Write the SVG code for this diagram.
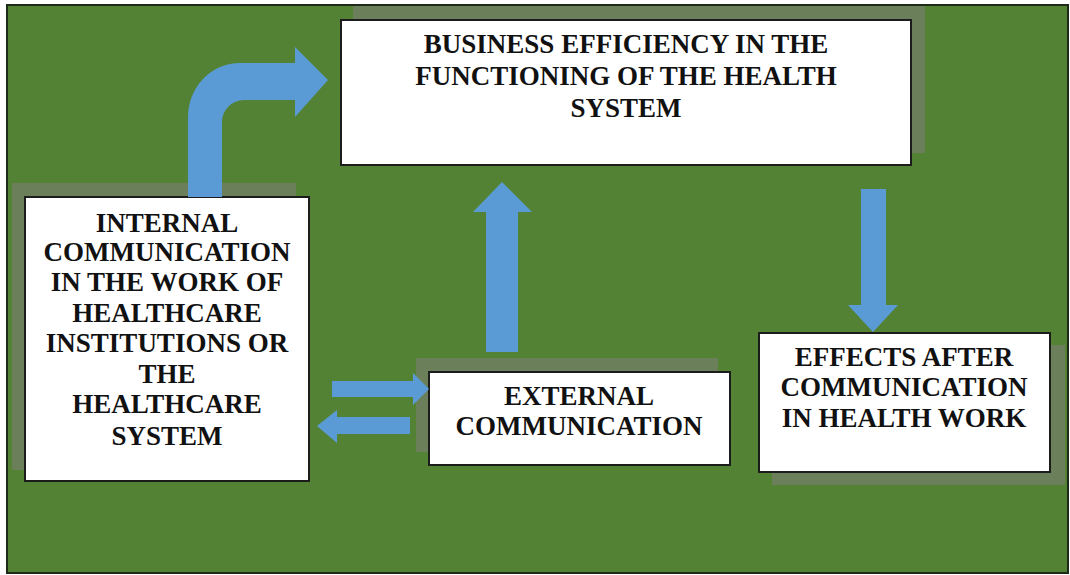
<svg xmlns="http://www.w3.org/2000/svg" width="1070" height="575" viewBox="0 0 1070 575">
<style>
.bg{fill:#548235;stroke:#1e2a18;stroke-width:2}
.sh{fill:#6b7f5b}
.box{fill:#ffffff;stroke:#1c1c1c;stroke-width:2}
.t{font-family:"Liberation Serif","Times New Roman",serif;font-weight:bold;font-size:27px;fill:#111;text-anchor:middle}
.ar{fill:#5b9bd5}
</style>
<rect x="0" y="0" width="1070" height="575" fill="#ffffff"/>
<rect class="bg" x="7" y="5" width="1061" height="568"/>
<g id="node-business">
<rect class="sh" x="353" y="6" width="572" height="147"/>
<rect class="box" x="341" y="20" width="570" height="145"/>
<text class="t" x="626" y="53">BUSINESS EFFICIENCY IN THE</text>
<text class="t" x="626" y="85">FUNCTIONING OF THE HEALTH</text>
<text class="t" x="626" y="117">SYSTEM</text>
</g>
<g id="node-internal">
<rect class="sh" x="12" y="183" width="284" height="287"/>
<rect class="box" x="25" y="197" width="284" height="284"/>
<text class="t" x="167" y="232">INTERNAL</text>
<text class="t" x="167" y="261">COMMUNICATION</text>
<text class="t" x="167" y="291">IN THE WORK OF</text>
<text class="t" x="167" y="322">HEALTHCARE</text>
<text class="t" x="167" y="352">INSTITUTIONS OR</text>
<text class="t" x="167" y="383">THE</text>
<text class="t" x="167" y="413">HEALTHCARE</text>
<text class="t" x="167" y="445">SYSTEM</text>
</g>
<g id="node-external">
<rect class="sh" x="416" y="358" width="302" height="94"/>
<rect class="box" x="429" y="372" width="301" height="93"/>
<text class="t" x="579" y="405">EXTERNAL</text>
<text class="t" x="579" y="435">COMMUNICATION</text>
</g>
<g id="node-effects">
<rect class="sh" x="772" y="345" width="293" height="140"/>
<rect class="box" x="759" y="333" width="291" height="139"/>
<text class="t" x="904" y="366">EFFECTS AFTER</text>
<text class="t" x="904" y="396">COMMUNICATION</text>
<text class="t" x="904" y="427">IN HEALTH WORK</text>
</g>
<g id="connectors">
<path class="ar" d="M188,197 L188,117 A52,54 0 0 1 240,63 L295,63 L295,47 L328,80 L295,117 L295,100 L244,100 A22,22 0 0 0 222,122 L222,197 Z"/>
<path class="ar" d="M486,352 L486,212 L473,212 L502,182 L532,212 L518,212 L518,352 Z"/>
<path class="ar" d="M861,189 L886,189 L886,305 L898,305 L873,332 L848,305 L861,305 Z"/>
<path class="ar" d="M332,381 L413,381 L413,373 L429,389 L413,405 L413,397 L332,397 Z"/>
<path class="ar" d="M410,417 L337,417 L337,410 L317,426 L337,443 L337,434 L410,434 Z"/>
</g>
</svg>
